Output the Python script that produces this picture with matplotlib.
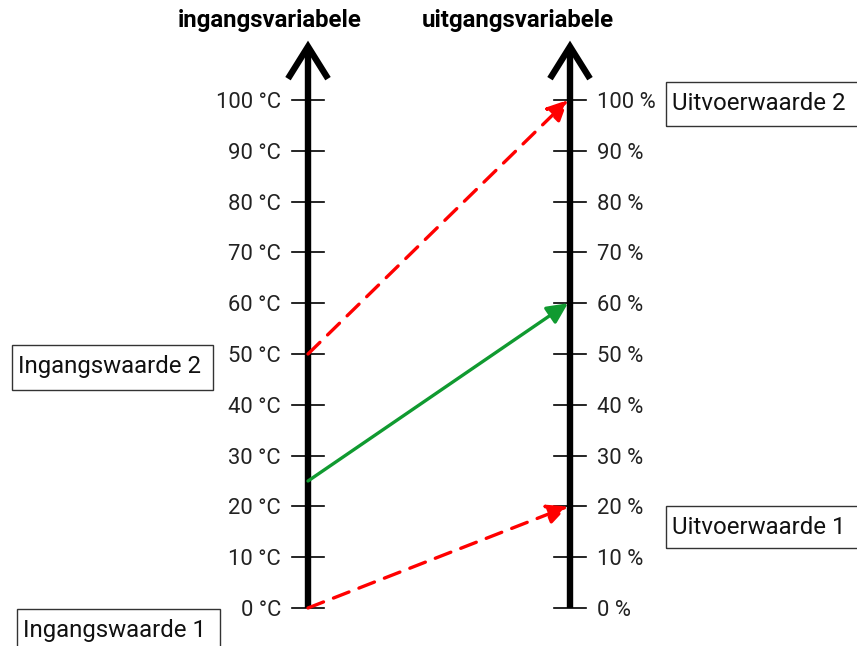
import matplotlib.pyplot as plt
from matplotlib.patches import Rectangle

plt.rcParams['font.family'] = ['Roboto', 'DejaVu Sans']

# data
ticks = [0, 10, 20, 30, 40, 50, 60, 70, 80, 90, 100]
in_labels = [f'{t} °C' for t in ticks]
out_labels = [f'{t} %' for t in ticks]
in_x, out_x = 308, 570
titles = ['ingangsvariabele', 'uitgangsvariabele']
# (input value, output value, colour, style)
mappings = [(0, 20, '#ff0000', (0, (5, 3.2))), (50, 100, '#ff0000', (0, (5, 3.2))),
            (25, 60, '#109a30', '-')]
# boxes: (x left, value at top, width, height in value units, text)
boxes = [(12, (608 - 345) / 5.08, 201, 45 / 5.08, 'Ingangswaarde 2'),
         (17, (608 - 609) / 5.08, 203, 50 / 5.08, 'Ingangswaarde 1'),
         (666, (608 - 82) / 5.08, 200, 44 / 5.08, 'Uitvoerwaarde 2'),
         (666, (608 - 506) / 5.08, 200, 42 / 5.08, 'Uitvoerwaarde 1')]

fig = plt.figure(figsize=(8.57, 6.46), dpi=100)
ax = fig.add_axes([0, 0, 1, 1])
ax.set_xlim(0, 857)
ax.set_ylim((608 - 646) / 5.08, 608 / 5.08)
ax.axis('off')

for x in (in_x, out_x):
    ax.plot([x, x], [0, 110.5], color='black', lw=4.6, solid_capstyle='butt', zorder=3)
    ax.plot([x - 20, x, x + 20], [104.2, 110.5, 104.2], color='black', lw=4.6,
            solid_joinstyle='miter', solid_capstyle='butt', zorder=3)
    for t in ticks:
        ax.plot([x - 16, x + 16], [t, t], color='black', lw=1.2, zorder=3)

for t, lab in zip(ticks, in_labels):
    ax.text(in_x - 27, t - 0.5, lab, ha='right', va='center', fontsize=15.8, color='#222222')
for t, lab in zip(ticks, out_labels):
    ax.text(out_x + 27, t - 0.5, lab, ha='left', va='center', fontsize=15.8, color='#222222')

ax.text(270, (608 - 21) / 5.08, titles[0], ha='center', va='center', fontsize=17.3, fontweight='bold')
ax.text(518, (608 - 21) / 5.08, titles[1], ha='center', va='center', fontsize=17.3, fontweight='bold')

for v_in, v_out, col, ls in mappings:
    ax.annotate('', xy=(out_x - 2, v_out), xytext=(in_x, v_in),
                arrowprops=dict(arrowstyle='-|>,head_length=1.25,head_width=0.6', color=col,
                                lw=2.4, linestyle=ls, shrinkA=0, shrinkB=0), zorder=4)

for x0, top, w, h, txt in boxes:
    ax.add_patch(Rectangle((x0, top - h), w, h, fill=False, edgecolor='#333333', lw=1.0))
    ax.text(x0 + 6, top - 22 / 5.08, txt, ha='left', va='center', fontsize=17.3, color='#111111')

fig.savefig('out.png', dpi=100)
